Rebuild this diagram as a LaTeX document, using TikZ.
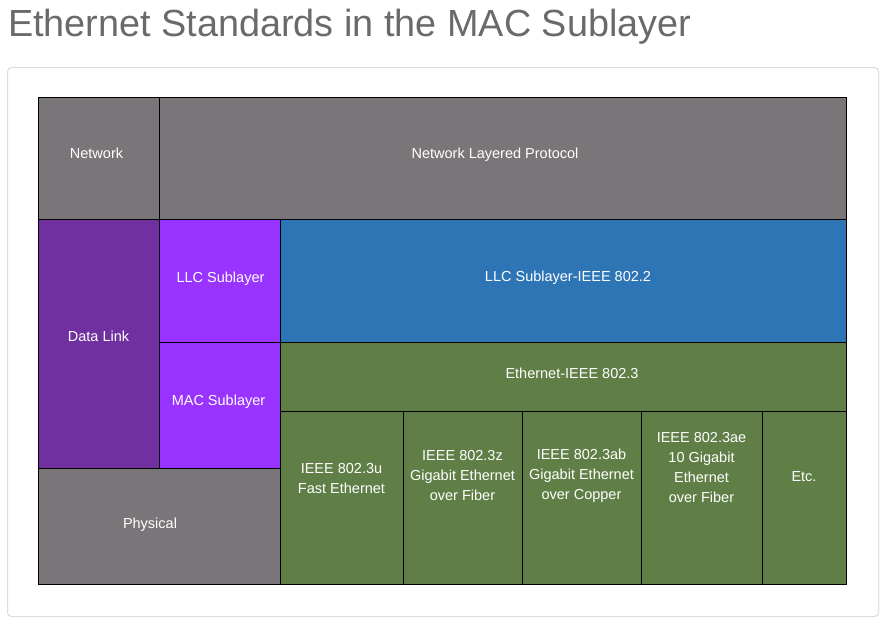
\documentclass[tikz,border=0pt]{standalone}
\usepackage{fontspec}
\setmainfont{Liberation Sans}
\usetikzlibrary{positioning}
\definecolor{netgray}{HTML}{7A7578}
\definecolor{dlpurple}{HTML}{7030A0}
\definecolor{subpurple}{HTML}{9933FF}
\definecolor{llcblue}{HTML}{2E75B6}
\definecolor{ethgreen}{HTML}{5F7F46}
\definecolor{titlegray}{HTML}{6A6A6A}
\definecolor{panelgray}{HTML}{DDDDDD}
\tikzstyle{cell} = [rectangle, draw=black, line width=0.8pt, anchor=north west,
inner sep=0pt, outer sep=0pt]
\tikzstyle{cell text} = [text=white, align=center, inner sep=0pt,
font=\fontsize{14.5}{20}\selectfont]
\tikzstyle{title} = [anchor=base west, inner sep=0pt, text=titlegray,
font=\fontsize{37.8}{40}\selectfont]
\newcommand{\cell}[7][]{ %
  % Box #2 with its top left corner at #3, #4 wide, #5 high.
  \node[cell, fill=#6, minimum width=#4, minimum height=#5] (#2) at #3 {}; %
  \node[cell text, #1] (#2-text) at (#2.center) {#7}; %
}

\begin{document}
\begin{tikzpicture}[x=1pt, y=-1pt]
    \useasboundingbox (0,0) rectangle (889,630);
    \node[title] (title) at (8,36) {Ethernet Standards in the MAC Sublayer};
    \draw[panelgray, line width=1pt, rounded corners=4pt] (7.5,67.5) rectangle (878.5,616.5);
    % upper layers
    \cell[xshift=-2pt, yshift=5pt]{network}{(38,97)}{121pt}{122pt}{netgray}{Network}
    \cell[xshift=-7.5pt, yshift=3pt]{protocol}{(159,97)}{687pt}{122pt}{netgray}{Network Layered Protocol}
    \cell[yshift=7pt]{datalink}{(38,219)}{121pt}{249pt}{dlpurple}{Data Link}
    \cell[xshift=1pt, yshift=2pt]{llc}{(159,219)}{121pt}{123pt}{subpurple}{LLC Sublayer}
    \cell[xshift=-1pt, yshift=3pt]{mac}{(159,342)}{121pt}{126pt}{subpurple}{MAC Sublayer}
    \cell[xshift=5pt, yshift=2.5pt]{llcieee}{(280,219)}{566pt}{123pt}{llcblue}{LLC Sublayer-IEEE 802.2}
    \cell[xshift=9pt, yshift=3pt]{eth}{(280,342)}{566pt}{69pt}{ethgreen}{Ethernet-IEEE 802.3}
    \cell[xshift=-9pt, yshift=1pt]{physical}{(38,468)}{242pt}{116pt}{netgray}{Physical}
    % ethernet standards
    \cell[yshift=19pt]{fast}{(280,411)}{123pt}{173pt}{ethgreen}{IEEE 802.3u\\Fast Ethernet}
    \cell[yshift=22pt]{gigfiber}{(403,411)}{119pt}{173pt}{ethgreen}{IEEE 802.3z\\Gigabit Ethernet\\over Fiber}
    \cell[yshift=22pt]{gigcopper}{(522,411)}{119pt}{173pt}{ethgreen}{IEEE 802.3ab\\Gigabit Ethernet\\over Copper}
    \cell[yshift=30pt]{tengig}{(641,411)}{121pt}{173pt}{ethgreen}{IEEE 802.3ae\\10 Gigabit\\Ethernet\\over Fiber}
    \cell[yshift=21pt]{etc}{(762,411)}{84pt}{173pt}{ethgreen}{Etc.}
\end{tikzpicture}
\end{document}
